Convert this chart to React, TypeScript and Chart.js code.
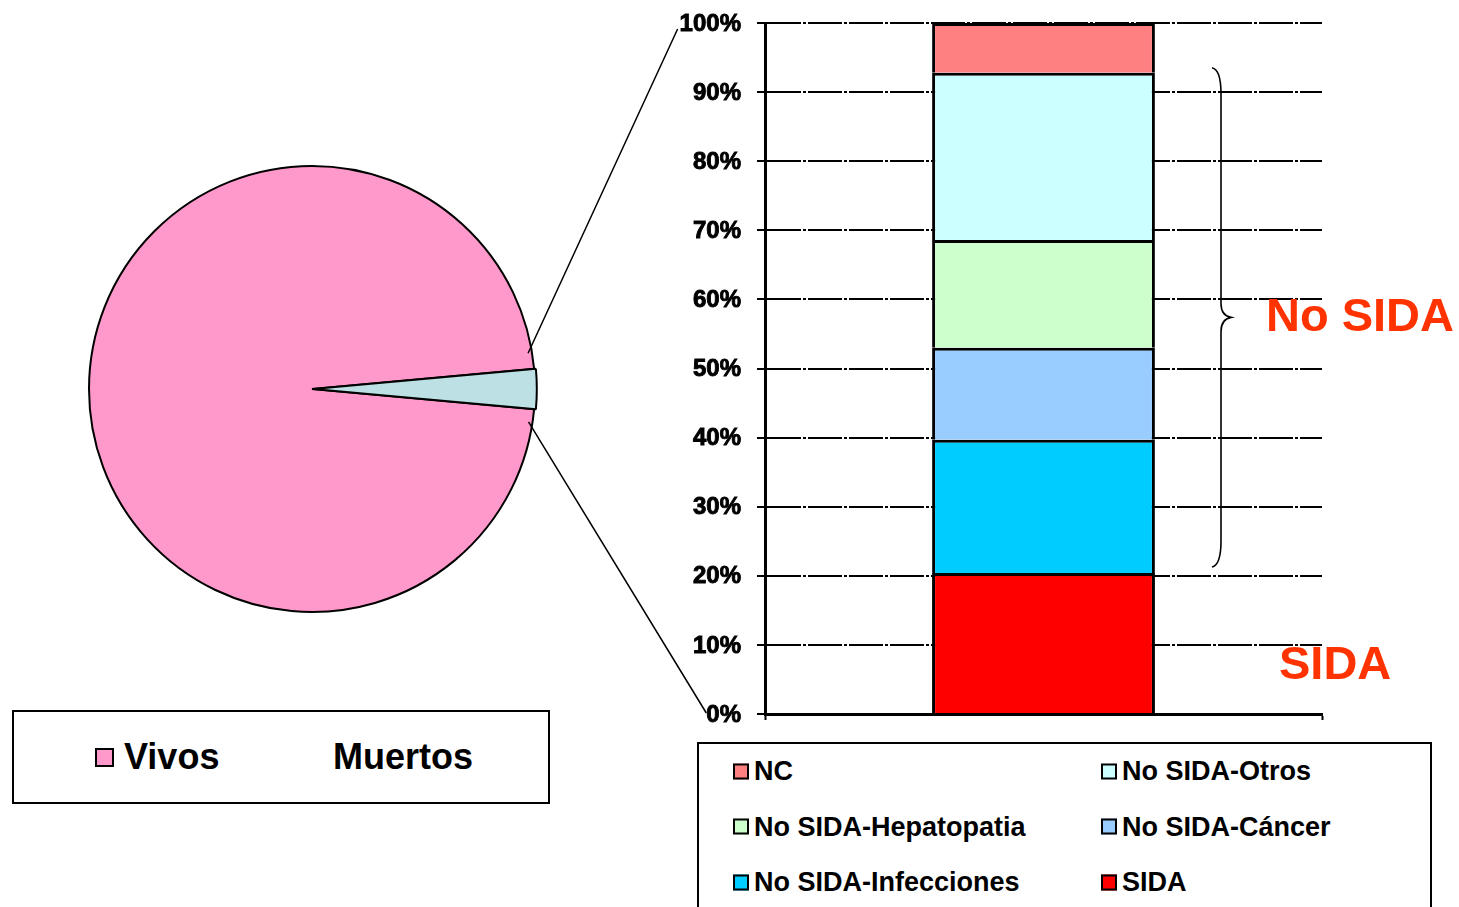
import React, { useEffect, useRef } from 'react';
import { Chart, registerables } from 'chart.js';

Chart.register(...registerables);

// ---------------- data ----------------
const pieLabels = ['Vivos', 'Muertos'];
const pieValues = [97.1, 2.9];
const pieColors = ['#FF99CC', '#BCE0E4'];

const barCategories = [''];
const causeLabels = [
  'SIDA',
  'No SIDA-Infecciones',
  'No SIDA-Cáncer',
  'No SIDA-Hepatopatia',
  'No SIDA-Otros',
  'NC',
];
const causeValues = [20.4, 19.3, 13.3, 15.6, 24.2, 7.2];
const causeColors = ['#FF0000', '#00CCFF', '#99CCFF', '#CCFFCC', '#CCFFFF', '#FF8080'];
const yTickValues = [0, 10, 20, 30, 40, 50, 60, 70, 80, 90, 100];
const yTickLabels = ['0%', '10%', '20%', '30%', '40%', '50%', '60%', '70%', '80%', '90%', '100%'];
const groupLabels = ['No SIDA', 'SIDA'];
const legendOrder = [5, 4, 3, 2, 1, 0];

// ---------------- style / layout ----------------
const SANS = "'Liberation Sans', Arial, sans-serif";
const PIE_BOX = { left: 72, top: 149, size: 480 };
const BAR_BOX = { left: 600, top: 0, width: 859, height: 760 };
const TICK_LEN = 8;
const TICK_PAD = 16;
const TICK_SIZE = 24;
const ACCENT = '#FF3300';

const annotPlugin = {
  id: 'annot',
  afterDraw(chart: any) {
    const { ctx, chartArea, scales } = chart;
    const y = scales.y;

    // y tick labels (heavy bold)
    ctx.save();
    ctx.fillStyle = '#000';
    ctx.strokeStyle = '#000';
    ctx.lineWidth = 0.9;
    ctx.font = `bold ${TICK_SIZE}px ${SANS}`;
    ctx.textAlign = 'right';
    ctx.textBaseline = 'middle';
    const labelRight = y.right - TICK_LEN - TICK_PAD;
    yTickValues.forEach((v, i) => {
      const py = y.getPixelForValue(v) + 1;
      ctx.fillText(yTickLabels[i], labelRight, py);
      ctx.strokeText(yTickLabels[i], labelRight, py);
    });
    ctx.restore();

    // brace
    const sida = causeValues[0];
    const noSidaTop = causeValues.slice(0, 5).reduce((a, b) => a + b, 0);
    const yTop = y.getPixelForValue(noSidaTop) - 5;
    const yBot = y.getPixelForValue(sida) - 6;
    const yMid = (yTop + yBot) / 2;
    const bx = chartArea.right - 110;
    ctx.save();
    ctx.strokeStyle = '#000';
    ctx.lineWidth = 1.6;
    ctx.beginPath();
    ctx.moveTo(bx, yTop);
    ctx.quadraticCurveTo(bx + 9, yTop + 2, bx + 9, yTop + 26);
    ctx.lineTo(bx + 9, yMid - 14);
    ctx.quadraticCurveTo(bx + 9, yMid - 2, bx + 19, yMid);
    ctx.quadraticCurveTo(bx + 9, yMid + 2, bx + 9, yMid + 14);
    ctx.lineTo(bx + 9, yBot - 26);
    ctx.quadraticCurveTo(bx + 9, yBot - 2, bx, yBot);
    ctx.stroke();

    ctx.fillStyle = ACCENT;
    ctx.font = `bold 47px ${SANS}`;
    ctx.textBaseline = 'middle';
    ctx.textAlign = 'left';
    ctx.fillText(groupLabels[0], chartArea.right - 56, yMid + 1);
    ctx.fillText(groupLabels[1], chartArea.right - 43, y.getPixelForValue(sida * 0.35) + 1);
    ctx.restore();
  },
};

export default function App() {
  const pieRef = useRef<HTMLCanvasElement>(null);
  const barRef = useRef<HTMLCanvasElement>(null);
  const ovRef = useRef<HTMLCanvasElement>(null);

  useEffect(() => {
    const total = pieValues.reduce((a, b) => a + b, 0);
    const muertosDeg = (pieValues[1] / total) * 360;

    const pie = new Chart(pieRef.current as HTMLCanvasElement, {
      type: 'pie',
      data: {
        labels: pieLabels,
        datasets: [
          {
            data: pieValues,
            backgroundColor: pieColors,
            borderColor: '#000',
            borderWidth: 2,
            offset: [0, 4],
          },
        ],
      },
      options: {
        responsive: false,
        animation: false,
        devicePixelRatio: 1,
        radius: 223,
        rotation: 90 + muertosDeg / 2,
        layout: { padding: 0 },
        plugins: { legend: { display: false }, tooltip: { enabled: false } },
      } as any,
    });

    const bar = new Chart(barRef.current as HTMLCanvasElement, {
      type: 'bar',
      data: {
        labels: barCategories,
        datasets: causeLabels.map((label, i) => ({
          label,
          data: [causeValues[i]],
          backgroundColor: causeColors[i],
          borderColor: '#000',
          borderWidth: 3,
          barPercentage: 0.4,
          categoryPercentage: 1,
        })),
      },
      options: {
        responsive: false,
        animation: false,
        devicePixelRatio: 1,
        layout: { padding: { left: 65, right: 137, top: 23, bottom: 40 } },
        plugins: { legend: { display: false }, tooltip: { enabled: false } },
        scales: {
          x: {
            stacked: true,
            ticks: { display: false },
            grid: {
              display: true,
              drawOnChartArea: false,
              drawTicks: true,
              tickLength: 6,
              tickColor: '#000',
              tickWidth: 2,
              offset: true,
            },
            border: { display: true, color: '#000', width: 3 },
          },
          y: {
            stacked: true,
            min: 0,
            max: 100,
            afterBuildTicks: (s: any) => {
              s.ticks = yTickValues.map((v) => ({ value: v }));
            },
            afterFit: (s: any) => {
              s.width = 100;
            },
            ticks: { display: false },
            grid: {
              color: '#000',
              lineWidth: 2,
              drawTicks: true,
              tickLength: TICK_LEN,
              tickColor: '#000',
              tickWidth: 2,
            },
            border: { display: true, color: '#000', width: 3, dash: [34, 2, 3, 2] },
          },
        },
      } as any,
      plugins: [annotPlugin],
    });

    // connector lines between pie slice and bar
    const ov = ovRef.current as HTMLCanvasElement;
    const octx = ov.getContext('2d') as CanvasRenderingContext2D;
    octx.clearRect(0, 0, ov.width, ov.height);
    const arc: any = pie.getDatasetMeta(0).data[1];
    const p = arc.getProps(['x', 'y', 'startAngle', 'endAngle', 'outerRadius'], true);
    const cx = PIE_BOX.left + p.x;
    const cy = PIE_BOX.top + p.y;
    const mid = (p.startAngle + p.endAngle) / 2;
    const half = (p.endAngle - p.startAngle) / 2;
    const r = p.outerRadius - 4;
    const a1 = mid - half * 1.8;
    const a2 = mid + half * 1.65;
    const ys: any = bar.scales.y;
    octx.font = `bold ${TICK_SIZE}px ${SANS}`;
    const labelRight = BAR_BOX.left + ys.right - TICK_LEN - TICK_PAD;
    const wTop = octx.measureText(yTickLabels[yTickLabels.length - 1]).width;
    const wBot = octx.measureText(yTickLabels[0]).width;
    octx.strokeStyle = '#000';
    octx.lineWidth = 1.5;
    octx.beginPath();
    octx.moveTo(cx + r * Math.cos(a1), cy + r * Math.sin(a1));
    octx.lineTo(labelRight - wTop - 2, BAR_BOX.top + ys.getPixelForValue(100) + 6);
    octx.moveTo(cx + r * Math.cos(a2), cy + r * Math.sin(a2));
    octx.lineTo(labelRight - wBot, BAR_BOX.top + ys.getPixelForValue(0) - 1);
    octx.stroke();

    return () => {
      pie.destroy();
      bar.destroy();
    };
  }, []);

  return (
    <div
      style={{
        position: 'fixed',
        left: 0,
        top: 0,
        width: 1459,
        height: 907,
        overflow: 'hidden',
        background: '#fff',
      }}
    >
      <canvas
        ref={pieRef}
        width={PIE_BOX.size}
        height={PIE_BOX.size}
        style={{ position: 'absolute', left: PIE_BOX.left, top: PIE_BOX.top, width: PIE_BOX.size, height: PIE_BOX.size }}
      />
      <canvas
        ref={barRef}
        width={BAR_BOX.width}
        height={BAR_BOX.height}
        style={{ position: 'absolute', left: BAR_BOX.left, top: BAR_BOX.top, width: BAR_BOX.width, height: BAR_BOX.height }}
      />
      <canvas
        ref={ovRef}
        width={1459}
        height={907}
        style={{ position: 'absolute', left: 0, top: 0, width: 1459, height: 907, pointerEvents: 'none' }}
      />
      {/* pie legend */}
      <div
        style={{
          position: 'absolute',
          left: 12,
          top: 710,
          width: 538,
          height: 94,
          border: '2px solid #000',
          boxSizing: 'border-box',
          background: '#fff',
        }}
      >
        {pieLabels.map((lab, i) => (
          <div
            key={lab}
            style={{
              position: 'absolute',
              left: 81 + i * 209,
              top: 45,
              transform: 'translateY(-50%)',
              display: 'flex',
              alignItems: 'center',
              font: `bold 36px ${SANS}`,
              color: '#000',
              whiteSpace: 'nowrap',
            }}
          >
            <span
              style={{
                display: 'inline-block',
                width: 19,
                height: 19,
                boxSizing: 'border-box',
                border: i === 0 ? '2px solid #000' : 'none',
                background: i === 0 ? pieColors[i] : 'transparent',
                marginRight: 10,
              }}
            />
            <span>{lab}</span>
          </div>
        ))}
      </div>
      {/* bar legend */}
      <div
        style={{
          position: 'absolute',
          left: 697,
          top: 742,
          width: 735,
          height: 180,
          border: '2px solid #000',
          boxSizing: 'border-box',
          background: '#fff',
        }}
      >
        {legendOrder.map((di, i) => {
          const col = i % 2;
          const row = Math.floor(i / 2);
          return (
            <div
              key={di}
              style={{
                position: 'absolute',
                left: 34 + col * 368,
                top: 27 + row * 55.5,
                transform: 'translateY(-50%)',
                display: 'flex',
                alignItems: 'center',
                font: `bold 27px ${SANS}`,
                color: '#000',
                whiteSpace: 'nowrap',
              }}
            >
              <span
                style={{
                  display: 'inline-block',
                  width: 16,
                  height: 16,
                  boxSizing: 'border-box',
                  border: '2px solid #000',
                  background: causeColors[di],
                  marginRight: 5,
                }}
              />
              <span>{causeLabels[di]}</span>
            </div>
          );
        })}
      </div>
    </div>
  );
}
